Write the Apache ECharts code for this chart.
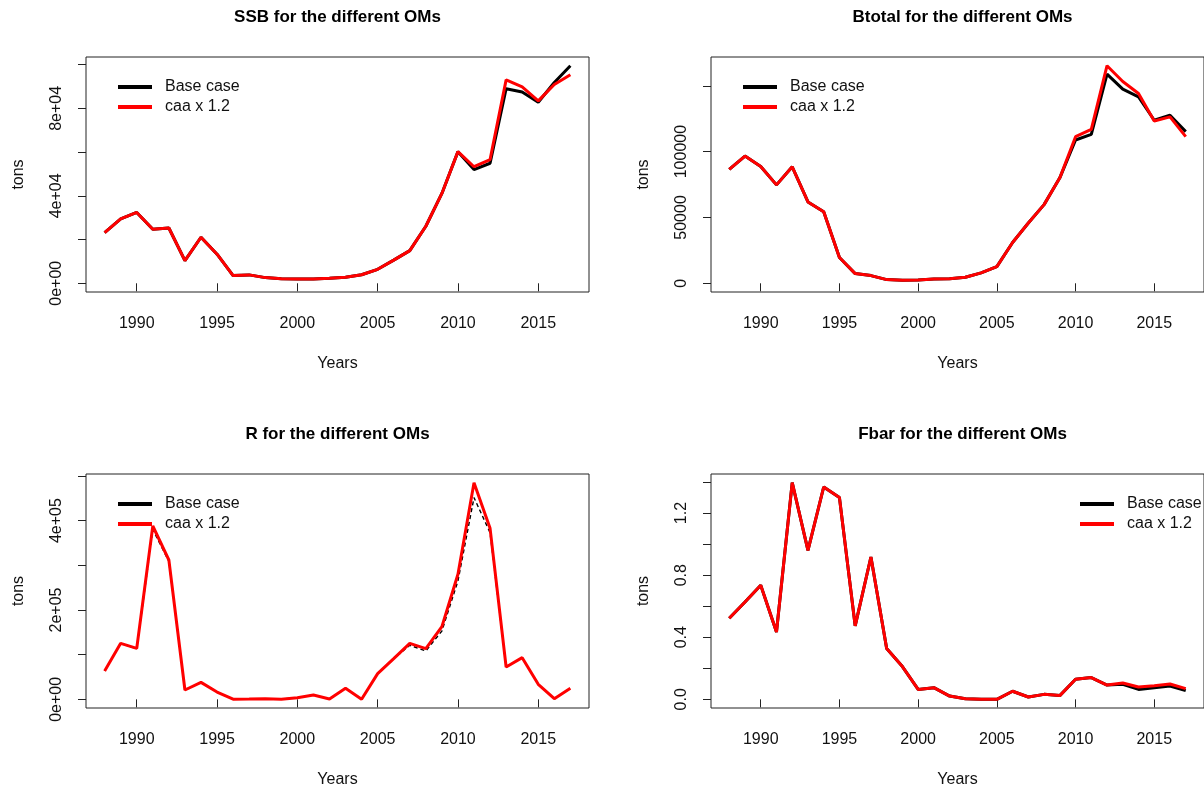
<!DOCTYPE html>
<html>
<head>
<meta charset="utf-8">
<title>OM comparison</title>
<script src="https://cdn.jsdelivr.net/npm/echarts@6/dist/echarts.min.js"></script>
<style>
  html, body { margin: 0; padding: 0; background: #fff; }
  #chart { width: 1204px; height: 789px; }
</style>
</head>
<body>
<div id="chart"></div>
<script>
// Assessment years
const years = [1988, 1989, 1990, 1991, 1992, 1993, 1994, 1995, 1996, 1997,
               1998, 1999, 2000, 2001, 2002, 2003, 2004, 2005, 2006, 2007,
               2008, 2009, 2010, 2011, 2012, 2013, 2014, 2015, 2016, 2017];

// Spawning stock biomass (tons)
const ssbBase = [23200, 29450, 32400, 24700, 25300, 10380, 21050, 13300, 3510, 3850,
                 2600, 2100, 2000, 2000, 2300, 2750, 3900, 6400, 10600, 14950,
                 26100, 41100, 60200, 52000, 54900, 89000, 87500, 82800, 91800, 99500];
const ssbCaa  = [23200, 29450, 32400, 24700, 25300, 10380, 21050, 13300, 3510, 3850,
                 2600, 2100, 2000, 2000, 2300, 2750, 3900, 6400, 10600, 14950,
                 26100, 41100, 60200, 53300, 56600, 93000, 89800, 83400, 90900, 95400];

// Total biomass (tons)
const btBase = [86430, 96600, 88700, 74730, 88460, 61770, 54400, 19570, 7370, 5850,
                2800, 2290, 2540, 3300, 3450, 4580, 7880, 12710, 31000, 45750,
                59740, 80070, 108800, 113120, 158870, 147430, 141590, 123800, 127600, 115150];
const btCaa  = [86430, 96600, 88700, 74730, 88460, 61770, 54400, 19570, 7370, 5850,
                2800, 2290, 2540, 3300, 3450, 4580, 7880, 12710, 31000, 45750,
                59740, 80070, 111340, 116930, 165230, 153280, 144130, 123290, 126340, 111340];

// Recruitment
const rBase = [63400, 125400, 113000, 380000, 309000, 20900, 38000, 16400, 300, 700,
               1500, 300, 3700, 9700, 700, 24600, 200, 57500, 91000, 121000,
               108200, 153000, 265000, 451500, 373000, 72400, 93300, 33600, 1500, 24600];
const rCaa  = [63400, 125400, 114200, 388000, 311900, 20900, 38000, 16400, 300, 700,
               1500, 300, 3700, 9700, 700, 24600, 200, 57500, 91000, 125400,
               113400, 162700, 279900, 485000, 382800, 72400, 93300, 33600, 1500, 24600];

// Mean fishing mortality
const fBase = [0.522, 0.627, 0.735, 0.434, 1.396, 0.960, 1.368, 1.300, 0.473, 0.917,
               0.327, 0.211, 0.064, 0.075, 0.021, 0.004, 0.000, 0.000, 0.052, 0.015,
               0.032, 0.024, 0.129, 0.140, 0.092, 0.097, 0.064, 0.075, 0.086, 0.056];
const fCaa  = [0.522, 0.627, 0.735, 0.434, 1.396, 0.960, 1.368, 1.300, 0.473, 0.917,
               0.327, 0.211, 0.064, 0.075, 0.021, 0.004, 0.000, 0.000, 0.052, 0.015,
               0.032, 0.024, 0.129, 0.140, 0.092, 0.105, 0.079, 0.088, 0.099, 0.069];

// Axis ticks and their labels
const yearTicks = [1990, 1995, 2000, 2005, 2010, 2015];
const ssbTicks = [0, 20000, 40000, 60000, 80000, 100000];
const ssbLabelValues = [0, 40000, 80000];
const ssbLabels = ['0e+00', '4e+04', '8e+04'];
const btTicks = [0, 50000, 100000, 150000];
const btLabelValues = [0, 50000, 100000];
const btLabels = ['0', '50000', '100000'];
const rTicks = [0, 100000, 200000, 300000, 400000, 500000];
const rLabelValues = [0, 200000, 400000];
const rLabels = ['0e+00', '2e+05', '4e+05'];
const fTicks = [0, 0.2, 0.4, 0.6, 0.8, 1.0, 1.2, 1.4];
const fLabelValues = [0, 0.4, 0.8, 1.2];
const fLabels = ['0.0', '0.4', '0.8', '1.2'];

const titles = ['SSB for the different OMs', 'Btotal for the different OMs',
                'R for the different OMs', 'Fbar for the different OMs'];
const seriesNames = ['Base case', 'caa x 1.2'];

const FONT = '"Liberation Sans", Arial, sans-serif';
const INK = '#111';

// Plot boxes (pixels)
const boxes = [
  { left: 86,  top: 57,  width: 503, height: 235 },
  { left: 711, top: 57,  width: 503, height: 235 },
  { left: 86,  top: 474, width: 503, height: 235 },
  { left: 711, top: 474, width: 503, height: 235 }
];

const panels = [
  { base: ssbBase, caa: ssbCaa, ticks: ssbTicks, lv: ssbLabelValues, lt: ssbLabels, dashed: false, legendLeft: 118 },
  { base: btBase,  caa: btCaa,  ticks: btTicks,  lv: btLabelValues,  lt: btLabels,  dashed: false, legendLeft: 743 },
  { base: rBase,   caa: rCaa,   ticks: rTicks,   lv: rLabelValues,   lt: rLabels,   dashed: true,  legendLeft: 118 },
  { base: fBase,   caa: fCaa,   ticks: fTicks,   lv: fLabelValues,   lt: fLabels,   dashed: false, legendLeft: 1080 }
];

// x range padded by 4% on each side; y from 0 to the maximum, padded by 4%
const xSpan = years[years.length - 1] - years[0];
const xMin = years[0] - 0.04 * xSpan;
const xMax = years[years.length - 1] + 0.04 * xSpan;

const pairs = (vals) => years.map((y, i) => [y, vals[i]]);

// label text for a tick value
const labelFor = (values, texts, v) => {
  for (let k = 0; k < values.length; k++) {
    if (Math.abs(values[k] - v) < 1e-9 * Math.max(1, Math.abs(values[k]))) return texts[k];
  }
  return '';
};

const option = {
  animation: false,
  backgroundColor: '#fff',
  title: [], grid: [], xAxis: [], yAxis: [], legend: [], series: []
};

panels.forEach((p, i) => {
  const b = boxes[i];
  const top = Math.max(...p.base, ...p.caa);
  const yMin = -0.04 * top;
  const yMax = top * 1.04;

  option.grid.push({
    left: b.left, top: b.top, width: b.width, height: b.height,
    show: true, borderColor: '#222', borderWidth: 1, backgroundColor: 'transparent',
    containLabel: false
  });

  option.title.push({
    text: titles[i],
    left: b.left + b.width / 2,
    top: b.top - 48,
    textAlign: 'center',
    padding: 0,
    textStyle: { fontFamily: FONT, fontSize: 17, fontWeight: 'bold', color: '#000' }
  });

  option.xAxis.push({
    type: 'value', gridIndex: i, min: xMin, max: xMax,
    name: 'Years', nameLocation: 'middle', nameGap: 64,
    nameTextStyle: { fontFamily: FONT, fontSize: 16, color: INK },
    axisLine: { show: false },
    splitLine: { show: false },
    axisTick: { show: true, inside: false, length: 8, customValues: yearTicks,
                lineStyle: { color: '#222', width: 1 } },
    axisLabel: { customValues: yearTicks, margin: 24, fontFamily: FONT, fontSize: 16, color: INK,
                 formatter: (v) => String(Math.round(v)) }
  });

  option.yAxis.push({
    type: 'value', gridIndex: i, min: yMin, max: yMax,
    name: 'tons', nameLocation: 'middle', nameGap: 59,
    nameTextStyle: { fontFamily: FONT, fontSize: 16, color: INK },
    axisLine: { show: false },
    splitLine: { show: false },
    axisTick: { show: true, inside: false, length: 8, customValues: p.ticks,
                lineStyle: { color: '#222', width: 1 } },
    axisLabel: {
      show: true, customValues: p.lv, rotate: 90, margin: 21,
      hideOverlap: false, showMinLabel: true, showMaxLabel: true,
      fontFamily: FONT, fontSize: 16, color: INK,
      formatter: (v) => labelFor(p.lv, p.lt, v)
    }
  });

  option.series.push({
    name: seriesNames[0], type: 'line', xAxisIndex: i, yAxisIndex: i,
    data: pairs(p.base), symbol: 'none', z: 2,
    itemStyle: { color: '#000' },
    lineStyle: p.dashed ? { color: '#000', width: 1.4, type: [4, 3] }
                        : { color: '#000', width: 3 }
  });
  option.series.push({
    name: seriesNames[1], type: 'line', xAxisIndex: i, yAxisIndex: i,
    data: pairs(p.caa), symbol: 'none', z: 3,
    itemStyle: { color: '#ff0000' },
    lineStyle: { color: '#ff0000', width: 3 }
  });

  option.legend.push({
    data: seriesNames,
    orient: 'vertical',
    left: p.legendLeft,
    top: b.top + 20,
    icon: 'rect',
    itemWidth: 34, itemHeight: 4, itemGap: 0,
    padding: 0,
    selectedMode: false,
    itemStyle: { borderWidth: 0 },
    textStyle: { fontFamily: FONT, fontSize: 16, color: INK, lineHeight: 20, padding: [0, 0, 0, 8] }
  });
});

const chart = echarts.init(document.getElementById('chart'), null, { renderer: 'canvas' });
chart.setOption(option);
</script>
</body>
</html>
